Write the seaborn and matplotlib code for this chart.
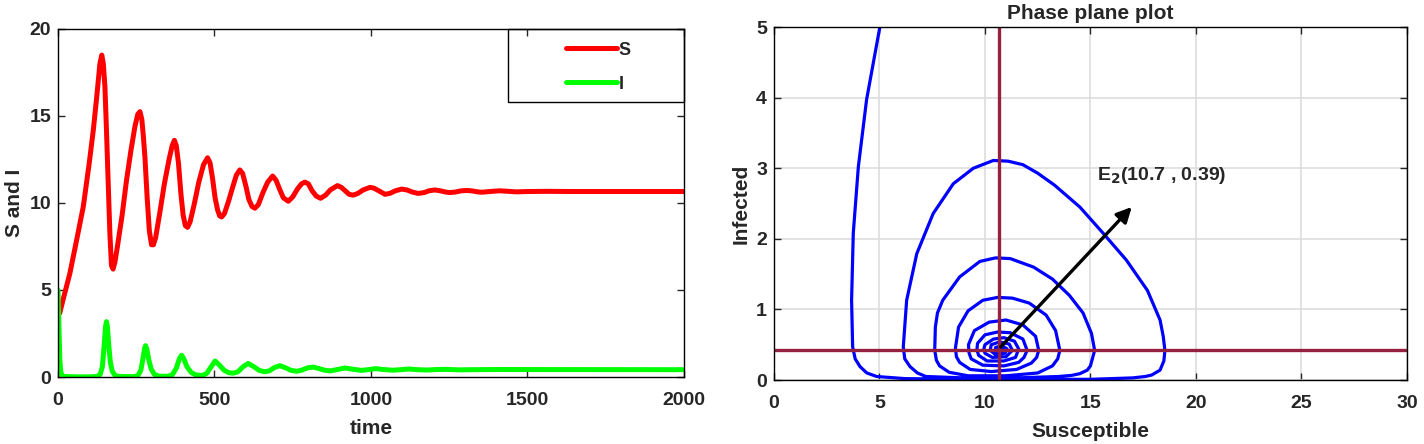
import numpy as np
import pandas as pd
import matplotlib
matplotlib.use('Agg')
import matplotlib.pyplot as plt
from matplotlib.patches import Rectangle
import seaborn as sns

# ---- data ----
# S(t) red curve
t_S = [0, 6, 20, 38, 60, 81, 100, 113, 125, 134, 140, 145, 150, 155, 161, 166, 171, 176, 182, 190,
       205, 219, 233, 246, 255, 262, 268, 273, 278, 285, 292, 299, 305, 312, 325, 340, 355, 365, 372,
       378, 385, 393, 400, 407, 414, 422, 435, 450, 465, 478, 486, 494, 502, 510, 517, 523, 532, 545,
       558, 570, 581, 590, 600, 610, 620, 629, 640, 655, 670, 686, 697, 708, 720, 736, 750, 765, 778,
       789, 800, 812, 825, 839, 855, 870, 893, 905, 918, 930, 943, 958, 975, 997, 1010, 1025, 1045,
       1060, 1078, 1098, 1115, 1132, 1151, 1170, 1185, 1204, 1222, 1238, 1252, 1270, 1288, 1306, 1325,
       1340, 1355, 1380, 1410, 1440, 1465, 1500, 1560, 1650, 2000]
S_vals = [3.5, 3.7, 4.7, 5.95, 7.9, 9.8, 12.3, 14.2, 16.3, 18.0, 18.5, 18.0, 16.7, 14.2, 10.9, 8.2, 6.4,
          6.2, 6.6, 7.5, 9.3, 11.3, 13.0, 14.4, 15.1, 15.25, 14.8, 13.8, 12.6, 10.3, 8.4, 7.6, 7.6, 8.0,
          9.4, 11.1, 12.5, 13.3, 13.6, 13.3, 12.3, 10.5, 9.3, 8.7, 8.6, 8.9, 9.9, 11.2, 12.2, 12.6,
          12.3, 11.4, 10.3, 9.6, 9.25, 9.2, 9.4, 10.1, 10.9, 11.6, 11.9, 11.7, 11.0, 10.2, 9.8, 9.7,
          9.9, 10.6, 11.2, 11.55, 11.3, 10.8, 10.3, 10.1, 10.35, 10.8, 11.1, 11.2, 11.1, 10.7, 10.4,
          10.27, 10.45, 10.75, 11.0, 10.9, 10.7, 10.5, 10.45, 10.55, 10.75, 10.9, 10.85, 10.7, 10.5,
          10.55, 10.7, 10.8, 10.75, 10.63, 10.55, 10.6, 10.7, 10.75, 10.7, 10.63, 10.6, 10.63, 10.7,
          10.72, 10.69, 10.64, 10.62, 10.66, 10.7, 10.67, 10.64, 10.66, 10.67, 10.66, 10.66]

# I(t) green curve
t_I = [0, 3, 6, 9, 13, 20, 60, 100, 125, 135, 142, 148, 152, 155, 158, 162, 167, 173, 182, 195, 240,
       255, 265, 272, 277, 280, 284, 290, 298, 308, 322, 350, 365, 378, 388, 395, 402, 412, 425, 440,
       460, 475, 488, 502, 515, 530, 545, 560, 575, 592, 608, 625, 643, 660, 675, 692, 709, 727, 745,
       764, 780, 798, 816, 835, 852, 870, 890, 917, 940, 970, 990, 1015, 1040, 1070, 1095, 1120, 1150,
       1180, 1210, 1240, 1280, 1320, 1400, 2000]
I_vals = [5.0, 3.0, 1.0, 0.3, 0.08, 0.03, 0.01, 0.01, 0.03, 0.15, 0.6, 1.9, 2.9, 3.18, 2.9, 1.9, 0.9,
          0.35, 0.1, 0.03, 0.02, 0.07, 0.4, 1.1, 1.65, 1.8, 1.6, 1.0, 0.45, 0.15, 0.05, 0.04, 0.12, 0.5,
          1.05, 1.25, 1.05, 0.6, 0.27, 0.12, 0.09, 0.2, 0.55, 0.92, 0.7, 0.4, 0.25, 0.22, 0.3, 0.6, 0.78,
          0.6, 0.38, 0.3, 0.35, 0.55, 0.65, 0.53, 0.38, 0.33, 0.4, 0.53, 0.57, 0.48, 0.39, 0.35, 0.42,
          0.52, 0.45, 0.38, 0.42, 0.48, 0.43, 0.39, 0.42, 0.46, 0.42, 0.4, 0.43, 0.44, 0.41, 0.42, 0.43,
          0.42]

# phase plane trajectory (Susceptible, Infected)
ph_S = [5.02, 4.39, 4.0, 3.76, 3.68, 3.73, 3.85, 4.08, 4.4, 4.87, 6.2, 9, 12, 15, 17.0, 17.6, 17.9,
        18.3, 18.48, 18.53, 18.45, 18.3, 17.7, 16.7, 15.6, 14.5, 13.3, 12.5, 11.8, 11.1, 10.4, 9.45,
        8.5, 7.55, 6.77, 6.29, 6.13, 6.2, 6.45, 6.8, 7.2, 9, 11.5, 13.5, 14.1, 14.5, 14.85, 15.0,
        15.2, 15.05, 14.65, 14.0, 13.2, 12.3, 11.2, 10.5, 9.76, 8.8, 8.0, 7.75, 7.65, 7.62, 7.7,
        7.85, 8.3, 9.2, 11.0, 12.5, 13.2, 13.45, 13.55, 13.35, 12.9, 12.1, 11.3, 10.6, 9.9, 9.2,
        8.75, 8.6, 8.65, 8.8, 9.3, 10.3, 11.5, 12.2, 12.45, 12.55, 12.4, 11.8, 11.0, 10.2, 9.5, 9.22,
        9.25, 9.35, 9.9, 10.9, 11.6, 11.85, 12.0, 11.8, 11.2, 10.6, 10.0, 9.65, 9.62, 9.7, 10.1, 10.9,
        11.45, 11.6, 11.4, 10.9, 10.4, 10.0, 9.95, 10.0, 10.35, 11.0, 11.3, 11.15, 10.7, 10.3, 10.25,
        10.5, 10.95, 11.05, 10.8, 10.5, 10.5, 10.7, 10.85, 10.7, 10.62]
ph_I = [5.0, 3.97, 3.02, 2.08, 1.13, 0.47, 0.3, 0.19, 0.1, 0.05, 0.02, 0.01, 0.01, 0.01, 0.03, 0.05,
        0.07, 0.14, 0.27, 0.42, 0.62, 0.85, 1.27, 1.7, 2.08, 2.45, 2.76, 2.93, 3.05, 3.1, 3.11, 3.0,
        2.78, 2.36, 1.79, 1.13, 0.47, 0.3, 0.19, 0.1, 0.05, 0.03, 0.03, 0.05, 0.065, 0.09, 0.14, 0.2,
        0.42, 0.66, 0.95, 1.2, 1.43, 1.6, 1.72, 1.73, 1.68, 1.46, 1.13, 0.95, 0.75, 0.42, 0.28, 0.2,
        0.11, 0.06, 0.06, 0.1, 0.2, 0.3, 0.42, 0.7, 0.92, 1.09, 1.16, 1.17, 1.13, 0.98, 0.75, 0.45,
        0.33, 0.25, 0.15, 0.12, 0.15, 0.24, 0.32, 0.42, 0.62, 0.78, 0.85, 0.82, 0.7, 0.5, 0.38, 0.3,
        0.21, 0.2, 0.25, 0.32, 0.42, 0.58, 0.67, 0.68, 0.64, 0.52, 0.43, 0.35, 0.27, 0.27, 0.32, 0.44,
        0.55, 0.6, 0.58, 0.5, 0.44, 0.38, 0.32, 0.33, 0.42, 0.51, 0.54, 0.5, 0.42, 0.36, 0.38, 0.44,
        0.49, 0.46, 0.41, 0.39, 0.43, 0.45, 0.42]

eq_S, eq_I = 10.66, 0.42
arrow_tip = (17.05, 2.48)
eq_label = r'E$_2$(10.7 , 0.39)'

# ---- style ----
sns.set_style('ticks')
plt.rcParams['font.family'] = ['Liberation Sans', 'DejaVu Sans']
plt.rcParams['font.weight'] = 'bold'
plt.rcParams['axes.labelweight'] = 'bold'
plt.rcParams['axes.titleweight'] = 'bold'
plt.rcParams['mathtext.default'] = 'bf'

fig = plt.figure(figsize=(14.24, 4.44), dpi=100)
ax1 = fig.add_axes([0.0407, 0.1509, 0.4396, 0.7838])
ax2 = fig.add_axes([0.5435, 0.1441, 0.4445, 0.7950])

# left: time series
df_S = pd.DataFrame({'time': t_S, 'val': S_vals})
df_I = pd.DataFrame({'time': t_I, 'val': I_vals})
sns.lineplot(data=df_S, x='time', y='val', ax=ax1, color='#ff0000', lw=3.6, estimator=None, label='S')
sns.lineplot(data=df_I, x='time', y='val', ax=ax1, color='#00ff00', lw=3.6, estimator=None, label='I')
ax1.set_xlim(0, 2000)
ax1.set_ylim(0, 20)
ax1.set_xticks([0, 500, 1000, 1500, 2000])
ax1.set_yticks([0, 5, 10, 15, 20])
ax1.set_xlabel('time', fontsize=15, labelpad=7)
ax1.set_ylabel('S and I', fontsize=15, labelpad=4)

leg = ax1.legend(loc='upper left', bbox_to_anchor=(0.795, 0.995), frameon=False, fontsize=13,
                 handlelength=2.8, handletextpad=0.1, labelspacing=0.95, borderaxespad=0.2)
for h in leg.get_lines():
    h.set_linewidth(3.6)
ax1.add_patch(Rectangle((0.719, 0.79), 0.281, 0.21, transform=ax1.transAxes, fill=False,
                        edgecolor='black', lw=1.0, zorder=5, clip_on=False))

# right: phase plane
df_ph = pd.DataFrame({'S': ph_S, 'I': ph_I})
ax2.grid(True, color='#dddddd', lw=1.2, zorder=0)
sns.lineplot(data=df_ph, x='S', y='I', ax=ax2, sort=False, estimator=None, color='#0000ff', lw=2.3)
ax2.axvline(eq_S, color='#952040', lw=2.4)
ax2.axhline(eq_I, color='#952040', lw=2.4)
ax2.annotate('', xy=arrow_tip, xytext=(eq_S, eq_I + 0.02),
             arrowprops=dict(arrowstyle='-|>,head_length=0.9,head_width=0.45', color='black', lw=2.4))
ax2.text(15.3, 2.9, eq_label, fontsize=14, fontweight='bold', ha='left', va='center')
ax2.set_xlim(0, 30)
ax2.set_ylim(0, 5)
ax2.set_xticks([0, 5, 10, 15, 20, 25, 30])
ax2.set_yticks([0, 1, 2, 3, 4, 5])
ax2.set_xlabel('Susceptible', fontsize=15, labelpad=7)
ax2.set_ylabel('Infected', fontsize=15, labelpad=4)
ax2.set_title('Phase plane plot', fontsize=15, pad=6)
ax2.set_axisbelow(True)

for ax in (ax1, ax2):
    ax.tick_params(direction='in', top=True, right=True, length=5, width=1, labelsize=14)
    ax.tick_params(axis='x', pad=11)
    ax.tick_params(axis='y', pad=5)
    for sp in ax.spines.values():
        sp.set_visible(True)
        sp.set_linewidth(1.0)
        sp.set_color('black')
    for lab in ax.get_xticklabels() + ax.get_yticklabels():
        lab.set_fontweight('bold')

fig.savefig('out.png', dpi=100, facecolor='white')
